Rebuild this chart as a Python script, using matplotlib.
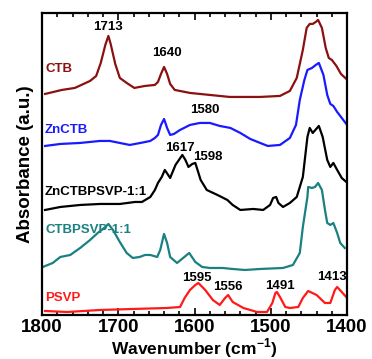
import matplotlib
matplotlib.use('Agg')
import matplotlib.pyplot as plt
from matplotlib.ticker import MultipleLocator

plt.rcParams['font.family'] = ['Liberation Sans', 'DejaVu Sans']
plt.rcParams['font.weight'] = 'bold'
plt.rcParams['mathtext.fontset'] = 'custom'
plt.rcParams['mathtext.rm'] = 'Liberation Sans:bold'
plt.rcParams['mathtext.bf'] = 'Liberation Sans:bold'

# stacked spectra, offset absorbance (a.u.)
ctb_w = [1796, 1774, 1757, 1737, 1729, 1723, 1717, 1713, 1710, 1704, 1698, 1689, 1679, 1665,
         1652, 1648, 1644, 1640, 1636, 1632, 1626, 1606, 1580, 1554, 1514, 1488, 1475, 1466,
         1458, 1453, 1449, 1445, 1441, 1438, 1433, 1428, 1424, 1420, 1414, 1408, 1401]
ctb_a = [221, 225, 227, 234, 239, 252, 270, 279, 271, 251, 237, 232, 227, 229,
         230, 233, 241, 248, 241, 231, 225, 222, 220, 218, 218, 219, 224, 237,
         265, 287, 291, 291, 293, 295, 287, 267, 257, 255, 249, 241, 236]

znctb_w = [1796, 1776, 1750, 1724, 1711, 1698, 1685, 1671, 1658, 1652, 1648, 1644, 1640, 1636,
           1632, 1627, 1619, 1606, 1593, 1580, 1567, 1553, 1540, 1527, 1514, 1504, 1488, 1475,
           1467, 1462, 1456, 1452, 1446, 1441, 1437, 1431, 1426, 1422, 1418, 1413, 1407, 1401]
znctb_a = [169, 171, 172, 174, 174, 172, 170, 172, 174, 177, 180, 190, 196, 187,
           180, 181, 185, 190, 192, 192, 189, 187, 182, 176, 172, 169, 170, 177,
           190, 215, 235, 245, 247, 250, 252, 240, 220, 211, 209, 203, 197, 191]

znpsvp_w = [1796, 1776, 1750, 1724, 1698, 1678, 1669, 1658, 1652, 1648, 1643, 1639, 1632, 1625,
            1616, 1612, 1608, 1603, 1599, 1592, 1584, 1570, 1557, 1550, 1540, 1523, 1510, 1501,
            1497, 1493, 1490, 1484, 1475, 1466, 1462, 1458, 1452, 1449, 1445, 1437, 1432, 1426,
            1422, 1418, 1413, 1407, 1401]
znpsvp_a = [105, 108, 110, 111, 111, 113, 113, 118, 125, 132, 138, 145, 137, 150,
            160, 155, 148, 151, 152, 135, 125, 120, 115, 110, 105, 106, 105, 110,
            117, 118, 112, 108, 112, 118, 128, 138, 178, 187, 182, 189, 178, 155,
            148, 152, 145, 137, 133]

ctbpsvp_w = [1799, 1786, 1776, 1763, 1750, 1737, 1727, 1717, 1713, 1707, 1698, 1689, 1681, 1672,
             1665, 1658, 1649, 1645, 1641, 1640, 1636, 1632, 1623, 1615, 1607, 1599, 1590, 1580,
             1563, 1550, 1534, 1514, 1484, 1471, 1462, 1458, 1452, 1451, 1446, 1442, 1438, 1433,
             1429, 1426, 1422, 1418, 1413, 1409, 1403]
ctbpsvp_a = [48, 52, 58, 60, 67, 75, 82, 88, 91, 85, 73, 62, 57, 58,
             60, 60, 58, 65, 78, 81, 72, 58, 52, 57, 62, 53, 48, 47,
             47, 46, 45, 46, 47, 50, 62, 88, 118, 128, 127, 128, 132, 125,
             105, 92, 90, 92, 82, 72, 67]

psvp_w = [1796, 1767, 1724, 1681, 1636, 1619, 1613, 1606, 1599, 1595, 1586, 1576, 1567, 1560,
          1556, 1550, 1536, 1518, 1505, 1498, 1494, 1492, 1488, 1481, 1475, 1464, 1458, 1451,
          1440, 1429, 1422, 1416, 1413, 1407, 1400]
psvp_a = [4, 3, 5, 6, 7, 8, 17, 25, 30, 32, 25, 15, 10, 17,
          20, 13, 7, 3, 3, 12, 22, 23, 18, 8, 7, 8, 17, 24,
          20, 12, 12, 25, 28, 23, 17]

names = ['CTB', 'ZnCTB', 'ZnCTBPSVP-1:1', 'CTBPSVP-1:1', 'PSVP']
colors = ['#8b1010', '#1a1aff', 'black', '#1a8080', '#ff1a1a']
name_y = [246, 185, 123, 85, 17]

peak_labels = ['1713', '1640', '1580', '1617', '1598', '1595', '1556', '1491', '1413']
peak_x = [1713, 1636, 1586, 1619, 1582, 1597, 1556, 1488, 1420]
peak_y = [288, 262, 205, 167, 158, 37, 28, 29, 38]

fig = plt.figure(figsize=(3.72, 3.59), dpi=100)
ax = fig.add_axes([0.113, 0.1226, 0.82, 0.8414])

spectra = [(ctb_w, ctb_a), (znctb_w, znctb_a), (znpsvp_w, znpsvp_a),
           (ctbpsvp_w, ctbpsvp_a), (psvp_w, psvp_a)]
for (w, a), c in zip(spectra, colors):
    ax.plot(w, a, color=c, lw=1.6, solid_joinstyle='round')

for n, c, y in zip(names, colors, name_y):
    ax.text(1796, y, n, color=c, fontsize=9.5, fontweight='bold', ha='left', va='center')

for t, x, y in zip(peak_labels, peak_x, peak_y):
    ax.text(x, y, t, color='black', fontsize=9.5, fontweight='bold', ha='center', va='center')

ax.set_xlim(1800, 1400)
ax.set_ylim(0, 302)
ax.xaxis.set_major_locator(MultipleLocator(100))
ax.xaxis.set_minor_locator(MultipleLocator(20))
ax.tick_params(axis='x', which='both', direction='in', top=True, width=1.2,
               labelsize=13.5, pad=3)
ax.tick_params(axis='x', which='major', length=5)
ax.tick_params(axis='x', which='minor', length=3)
ax.set_yticks([])
for s in ax.spines.values():
    s.set_linewidth(1.6)

ax.set_xlabel('Wavenumber (cm$^{\\mathbf{-1}}$)', fontsize=12.5, fontweight='bold', labelpad=0)
ax.set_ylabel('Absorbance (a.u.)', fontsize=13.5, fontweight='bold', labelpad=6)

fig.savefig('out.png', dpi=100)
